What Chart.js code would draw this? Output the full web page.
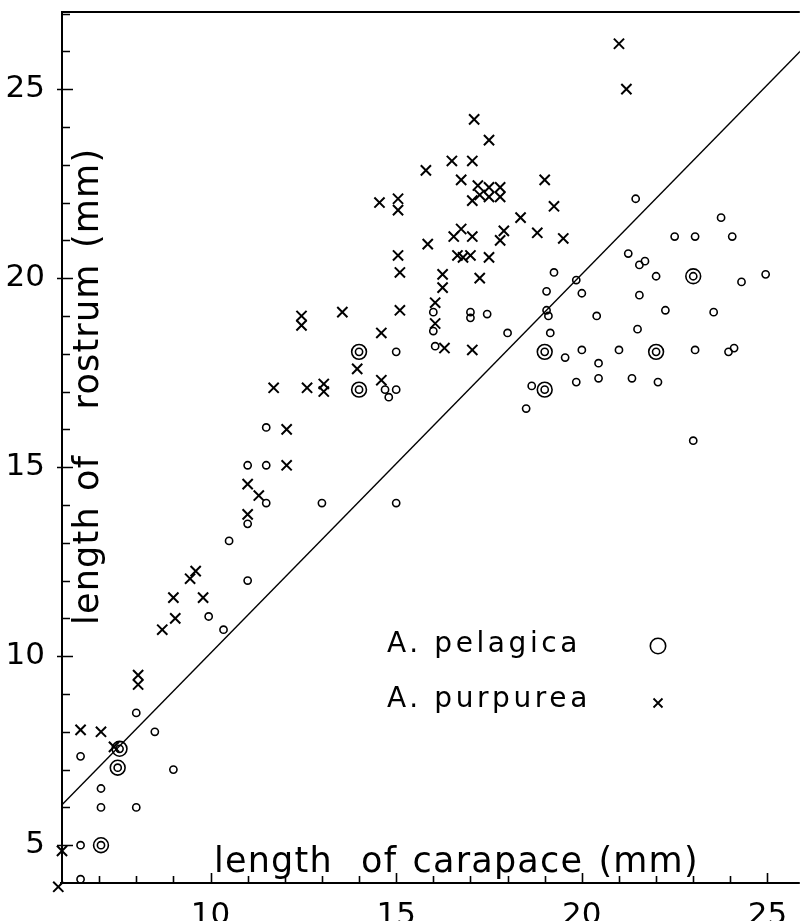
<!DOCTYPE html>
<html>
<head>
<meta charset="utf-8">
<script src="https://cdn.jsdelivr.net/npm/chart.js@4.4.1/dist/chart.umd.min.js"></script>
<style>
    html, body { margin: 0; padding: 0; background: #fff; }
    #wrap { position: relative; width: 809px; height: 921px; overflow: hidden; }
    #plot { position: absolute; left: 0; top: 0; }
    .axis-title {
        position: absolute;
        font-family: "DejaVu Sans", sans-serif;
        font-size: 35px;
        line-height: 35px;
        letter-spacing: 1.2px;
        word-spacing: 3px;
        white-space: pre;
        color: #000;
    }
    .axis-title .gap { display: inline-block; }
    #xtitle { left: 214px; top: 843px; }
    #ytitle { left: 69px; top: 625px; transform-origin: 0 0; transform: rotate(-90deg); }
    .legend-row {
        position: absolute;
        left: 387px;
        font-family: "DejaVu Sans", sans-serif;
        font-size: 28px;
        line-height: 28px;
        letter-spacing: 3.6px;
        white-space: pre;
        color: #000;
    }
    .legend-mark { position: absolute; }
</style>
</head>
<body>
<div id="wrap">
    <canvas id="plot" width="809" height="921"></canvas>
    <div class="axis-title" id="xtitle">length<span class="gap" style="width:13px"></span> of carapace (mm)</div>
    <div class="axis-title" id="ytitle">length of<span class="gap" style="width:30px"></span> rostrum (mm)</div>
    <div class="legend-row" style="top:629px">A. pelagica</div>
    <div class="legend-row" style="top:684px">A. purpurea</div>
    <svg class="legend-mark" style="left:646px;top:634px" width="24" height="24">
        <circle cx="12" cy="12" r="7.7" fill="none" stroke="#000" stroke-width="1.6"/>
    </svg>
    <svg class="legend-mark" style="left:646px;top:691px" width="24" height="24">
        <path d="M7.5 7.5 L16.5 16.5 M16.5 7.5 L7.5 16.5" stroke="#000" stroke-width="1.8"/>
    </svg>
</div>
<script>
// axis ranges and labelled ticks
const xMin = 6, xMax = 25.87;
const yMin = 4, yMax = 27.04;
const xTicks = [10, 15, 20, 25];
const yTicks = [5, 10, 15, 20, 25];

// A. purpurea (crosses) [carapace, rostrum]
const purpurea = [
    [21.0, 26.2], [21.2, 25.0], [17.1, 24.2], [17.5, 23.65], [16.5, 23.1], [17.05, 23.1],
    [15.8, 22.85], [16.75, 22.6], [19.0, 22.6], [14.55, 22.0], [15.05, 22.1], [15.05, 21.8],
    [17.2, 22.45], [17.25, 22.2], [17.5, 22.4], [17.8, 22.4], [17.5, 22.15], [17.8, 22.15], [17.05, 22.05],
    [19.25, 21.9], [18.35, 21.6], [18.8, 21.2], [19.5, 21.05], [17.9, 21.25], [17.8, 21.0],
    [16.75, 21.3], [16.55, 21.1], [17.05, 21.1], [15.85, 20.9], [15.05, 20.6], [15.1, 20.15],
    [16.65, 20.6], [16.8, 20.55], [17.0, 20.6], [17.5, 20.55], [17.25, 20.0], [16.25, 20.1], [16.25, 19.75],
    [16.05, 19.35], [16.05, 18.8], [16.3, 18.15], [17.05, 18.1], [15.1, 19.15],
    [12.45, 19.0], [12.45, 18.75], [13.55, 19.1], [14.6, 18.55], [13.95, 17.6], [11.7, 17.1],
    [12.6, 17.1], [13.05, 17.2], [13.05, 17.0], [14.6, 17.3], [12.05, 16.0], [12.05, 15.05],
    [11.0, 14.55], [11.3, 14.25], [11.0, 13.75], [9.6, 12.25], [9.45, 12.05], [9.0, 11.55],
    [9.8, 11.55], [9.05, 11.0], [8.7, 10.7], [8.05, 9.5], [8.05, 9.25], [6.5, 8.05], [7.05, 8.0],
    [7.4, 7.6], [6.0, 4.85], [5.9, 3.9]
];

// A. pelagica (single circles)
const pelagica = [
    [6.5, 4.1], [6.5, 5.0], [7.05, 6.0], [8.0, 6.0], [7.05, 6.5], [9.0, 7.0], [6.5, 7.35],
    [8.5, 8.0], [8.0, 8.5], [10.35, 10.7], [9.95, 11.05], [11.0, 12.0], [10.5, 13.05], [11.0, 13.5],
    [11.5, 14.05], [13.0, 14.05], [15.0, 14.05], [11.0, 15.05], [11.5, 15.05], [11.5, 16.05],
    [14.7, 17.05], [15.0, 17.05], [14.8, 16.85], [15.0, 18.05],
    [16.0, 19.1], [16.0, 18.6], [16.05, 18.2], [17.0, 19.1], [17.0, 18.95], [17.45, 19.05], [18.0, 18.55],
    [19.25, 20.15], [19.85, 19.95], [20.0, 19.6], [19.05, 19.65], [19.05, 19.15], [19.1, 19.0],
    [19.15, 18.55], [19.55, 17.9], [20.0, 18.1], [20.4, 19.0], [18.65, 17.15], [19.85, 17.25],
    [18.5, 16.55], [20.45, 17.75], [20.45, 17.35], [21.35, 17.35], [22.05, 17.25], [21.0, 18.1],
    [23.05, 18.1], [23.95, 18.05], [24.1, 18.15], [21.5, 18.65], [21.55, 19.55], [22.25, 19.15],
    [23.55, 19.1], [22.0, 20.05], [24.3, 19.9], [24.95, 20.1], [21.55, 20.35], [21.7, 20.45],
    [21.25, 20.65], [22.5, 21.1], [23.05, 21.1], [24.05, 21.1], [23.75, 21.6], [21.45, 22.1], [23.0, 15.7]
];

// A. pelagica, two specimens on one spot (double circles)
const pelagicaDouble = [
    [7.05, 5.0], [7.5, 7.05], [7.55, 7.55], [14.0, 18.05], [14.0, 17.05],
    [19.0, 18.05], [19.0, 17.05], [22.0, 18.05], [23.0, 20.05]
];

// fitted line, end points
const fitLine = [[6, 6.07], [26, 26.12]];

const toXY = arr => arr.map(([x, y]) => ({ x, y }));

// inward ticks and the frame lines
const frameTicks = {
    id: 'frameTicks',
    afterDatasetsDraw(chart) {
        const { ctx, chartArea: a, scales: { x, y } } = chart;
        ctx.save();
        ctx.strokeStyle = '#000';
        ctx.lineCap = 'butt';
        ctx.lineWidth = 2;
        ctx.beginPath();
        ctx.moveTo(a.left, a.top);
        ctx.lineTo(a.right, a.top);
        ctx.moveTo(a.left, a.top - 1);
        ctx.lineTo(a.left, a.bottom + 1);
        ctx.moveTo(a.left - 2, a.bottom);
        ctx.lineTo(a.right, a.bottom);
        ctx.stroke();

        ctx.lineWidth = 1.6;
        ctx.beginPath();
        for (let v = Math.ceil(y.min) + 1; v <= y.max; v++) {
            const py = Math.round(y.getPixelForValue(v)) + 0.5;
            const major = v % 5 === 0;
            ctx.moveTo(a.left - (major ? 5 : 0), py);
            ctx.lineTo(a.left + (major ? 11 : 8), py);
        }
        for (let v = Math.ceil(x.min) + 1; v <= x.max; v++) {
            const px = Math.round(x.getPixelForValue(v)) + 0.5;
            const major = v % 5 === 0;
            ctx.moveTo(px, a.bottom);
            ctx.lineTo(px, a.bottom - (major ? 10 : 7));
        }
        ctx.stroke();
        ctx.restore();
    }
};

const tickFont = { family: 'DejaVu Sans', size: 31 };

new Chart(document.getElementById('plot'), {
    type: 'scatter',
    data: {
        datasets: [
            {
                label: 'fit',
                data: toXY(fitLine),
                showLine: true,
                borderColor: '#000',
                borderWidth: 1.4,
                pointRadius: 0,
                fill: false
            },
            {
                label: 'A. pelagica',
                data: toXY(pelagica),
                pointStyle: 'circle',
                pointRadius: 3.6,
                borderWidth: 1.6,
                borderColor: '#000',
                backgroundColor: 'rgba(0,0,0,0)'
            },
            {
                label: 'A. pelagica x2 inner',
                data: toXY(pelagicaDouble),
                pointStyle: 'circle',
                pointRadius: 3.6,
                borderWidth: 1.6,
                borderColor: '#000',
                backgroundColor: 'rgba(0,0,0,0)'
            },
            {
                label: 'A. pelagica x2 outer',
                data: toXY(pelagicaDouble),
                pointStyle: 'circle',
                pointRadius: 7.4,
                borderWidth: 1.6,
                borderColor: '#000',
                backgroundColor: 'rgba(0,0,0,0)'
            },
            {
                label: 'A. purpurea',
                data: toXY(purpurea),
                pointStyle: 'crossRot',
                pointRadius: 7.2,
                borderWidth: 2,
                borderColor: '#000',
                clip: false
            }
        ]
    },
    options: {
        responsive: false,
        animation: false,
        devicePixelRatio: 1,
        layout: { padding: { top: 12, right: 0, left: 0, bottom: 0 } },
        plugins: {
            legend: { display: false },
            tooltip: { enabled: false }
        },
        scales: {
            x: {
                type: 'linear',
                min: xMin,
                max: xMax,
                grid: { display: false },
                border: { display: false },
                afterBuildTicks: s => { s.ticks = xTicks.map(v => ({ value: v })); },
                afterFit: s => { s.height = 38; s.paddingLeft = 0; s.paddingRight = 0; },
                ticks: { font: tickFont, color: '#000', padding: 6, maxRotation: 0, autoSkip: false }
            },
            y: {
                type: 'linear',
                min: yMin,
                max: yMax,
                grid: { display: false },
                border: { display: false },
                afterBuildTicks: s => { s.ticks = yTicks.map(v => ({ value: v })); },
                afterFit: s => { s.width = 62; s.paddingTop = 0; s.paddingBottom = 0; },
                ticks: { font: tickFont, color: '#000', padding: 9, autoSkip: false }
            }
        }
    },
    plugins: [frameTicks]
});
</script>
</body>
</html>
